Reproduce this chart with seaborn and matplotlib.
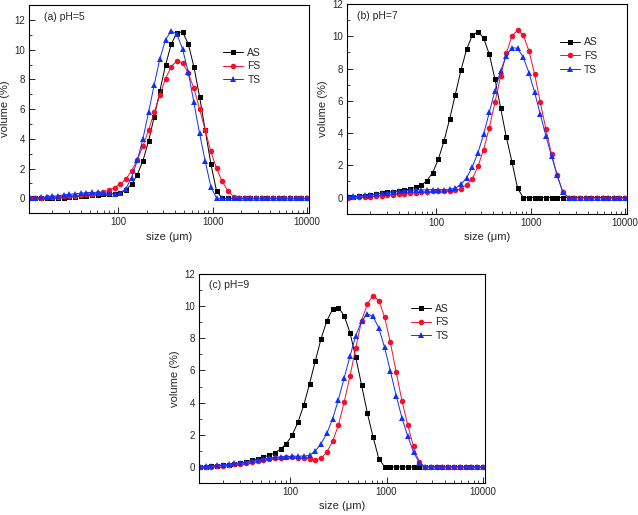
import numpy as np
import pandas as pd
import matplotlib
matplotlib.use("Agg")
import matplotlib.pyplot as plt
import matplotlib.ticker as mticker
import seaborn as sns

# particle size classes (um)
sizes = [11.482, 13.183, 15.136, 17.378, 19.953, 22.909, 26.303, 30.200, 34.674, 39.811,
         45.709, 52.481, 60.256, 69.183, 79.433, 91.201, 104.713, 120.226, 138.038, 158.489,
         181.970, 208.930, 239.883, 275.423, 316.228, 363.078, 416.869, 478.630, 549.541, 630.957,
         724.436, 831.764, 954.993, 1096.478, 1258.925, 1445.440, 1659.587, 1905.461, 2187.762, 2511.886,
         2884.032, 3311.311, 3801.894, 4365.158, 5011.872, 5754.399, 6606.934, 7585.776, 8709.636, 10000.0]

# (a) pH=5
as_a = [0, 0, 0, 0, 0.01, 0.02, 0.05, 0.08, 0.11, 0.14, 0.17, 0.20, 0.23, 0.26, 0.29, 0.32, 0.38,
        0.58, 0.95, 1.59, 2.53, 3.85, 5.5, 7.25, 8.97, 10.37, 11.15, 11.2, 10.4, 8.87, 6.85, 4.6,
        2.32, 0.5] + [0] * 16
fs_a = [0.02, 0.03, 0.04, 0.06, 0.08, 0.10, 0.13, 0.16, 0.19, 0.22, 0.26, 0.30, 0.35, 0.42, 0.54,
        0.72, 0.97, 1.3, 1.84, 2.6, 3.5, 4.6, 5.78, 6.96, 8.06, 8.87, 9.25, 9.13, 8.44, 7.41, 6.02,
        4.57, 3.16, 2.01, 1.14, 0.51, 0.11] + [0] * 13
ts_a = [0.03, 0.04, 0.06, 0.09, 0.13, 0.17, 0.22, 0.27, 0.31, 0.35, 0.38, 0.40, 0.40, 0.38, 0.34,
        0.30, 0.36, 0.66, 1.4, 2.55, 4.0, 5.8, 7.65, 9.4, 10.68, 11.27, 11.05, 10.05, 8.5, 6.45,
        4.38, 2.5, 0.78] + [0] * 17

# (b) pH=7
as_b = [0.03, 0.05, 0.08, 0.12, 0.17, 0.22, 0.27, 0.32, 0.37, 0.43, 0.47, 0.54, 0.64, 0.76, 1.05,
        1.55, 2.37, 3.5, 4.87, 6.39, 7.9, 9.2, 10.06, 10.29, 9.9, 8.89, 7.36, 5.57, 3.77, 2.23,
        0.58] + [0] * 19
fs_b = [0, 0.01, 0.02, 0.04, 0.06, 0.08, 0.11, 0.14, 0.17, 0.20, 0.23, 0.27, 0.30, 0.34, 0.37,
        0.39, 0.40, 0.41, 0.42, 0.45, 0.56, 0.8, 1.15, 1.94, 2.97, 4.33, 5.9, 7.53, 8.95, 10.02,
        10.39, 10.08, 9.11, 7.67, 5.92, 4.25, 2.7, 1.38, 0.33] + [0] * 11
ts_b = [0.05, 0.07, 0.10, 0.14, 0.18, 0.22, 0.27, 0.31, 0.35, 0.39, 0.42, 0.45, 0.47, 0.48, 0.49,
        0.50, 0.50, 0.50, 0.52, 0.58, 0.82, 1.22, 1.9, 2.78, 3.92, 5.28, 6.64, 7.86, 8.78, 9.3,
        9.26, 8.7, 7.75, 6.54, 5.18, 3.84, 2.58, 1.38, 0.33] + [0] * 11

# (c) pH=9
as_c = [0.01, 0.03, 0.05, 0.07, 0.10, 0.13, 0.17, 0.22, 0.29, 0.41, 0.52, 0.62, 0.72, 0.87, 1.12,
        1.45, 1.98, 2.78, 3.84, 5.16, 6.59, 7.97, 9.09, 9.81, 9.91, 9.4, 8.36, 6.82, 5.12, 3.37,
        1.86, 0.52] + [0] * 18
fs_c = [0, 0.01, 0.03, 0.05, 0.08, 0.12, 0.16, 0.21, 0.26, 0.32, 0.38, 0.44, 0.50, 0.55, 0.58,
        0.60, 0.60, 0.58, 0.56, 0.50, 0.45, 0.54, 0.93, 1.59, 2.6, 4.03, 5.64, 7.39, 9.09, 10.12,
        10.66, 10.35, 9.31, 7.74, 5.91, 4.11, 2.6, 1.28, 0.31] + [0] * 11
ts_c = [0.02, 0.04, 0.07, 0.10, 0.14, 0.18, 0.22, 0.27, 0.32, 0.38, 0.44, 0.50, 0.56, 0.60, 0.63,
        0.65, 0.66, 0.67, 0.68, 0.72, 0.99, 1.45, 2.09, 2.99, 4.19, 5.53, 6.88, 8.16, 9.05, 9.52,
        9.36, 8.63, 7.43, 5.95, 4.44, 3.06, 1.92, 0.93, 0.27] + [0] * 11

series_names = ["AS", "FS", "TS"]
panel_titles = ["(a) pH=5", "(b) pH=7", "(c) pH=9"]
x_ticks = [100, 1000, 10000]
x_ticklabels = ["100", "1000", "10000"]

sns.set_style("white")
plt.rcParams["font.family"] = ["Liberation Sans", "DejaVu Sans"]

colors = {"AS": "#000000", "FS": "#f4102c", "TS": "#1030f8"}
markers = {"AS": "s", "FS": "o", "TS": "^"}
msizes = {"AS": 3.6, "FS": 4.0, "TS": 4.4}

fig = plt.figure(figsize=(6.38, 5.15), dpi=100)
positions = [
    [0.0455, 0.586, 0.439, 0.404],
    [0.544, 0.585, 0.439, 0.407],
    [0.312, 0.062, 0.448, 0.406],
]
ylims = [(-1, 13), (-1, 12), (-1, 12)]
legend_anchor = [(0.694, 0.795), (0.76, 0.842), (0.743, 0.858)]
panel_data = [(as_a, fs_a, ts_a), (as_b, fs_b, ts_b), (as_c, fs_c, ts_c)]

for i in range(3):
    ax = fig.add_axes(positions[i])
    for name, vals in zip(series_names, panel_data[i]):
        df = pd.DataFrame({"size": sizes, "volume": vals})
        sns.lineplot(data=df, x="size", y="volume", ax=ax, color=colors[name],
                     marker=markers[name], markersize=msizes[name],
                     markeredgewidth=0, linewidth=0.7, label=name)
    ax.set_xscale("log")
    ax.set_xlim(11.3, 10500)
    ax.set_ylim(*ylims[i])
    ax.set_xticks(x_ticks)
    ax.set_xticklabels(x_ticklabels)
    ax.xaxis.set_minor_locator(mticker.LogLocator(base=10, subs=np.arange(2, 10)))
    ax.xaxis.set_minor_formatter(mticker.NullFormatter())
    ax.set_yticks([0, 2, 4, 6, 8, 10, 12])
    ax.yaxis.set_minor_locator(mticker.MultipleLocator(1))
    ax.tick_params(which="major", direction="in", length=4, width=0.7,
                   labelsize=7, bottom=True, left=True, top=False, right=False, pad=3)
    ax.tick_params(which="minor", direction="in", length=2, width=0.6,
                   bottom=True, left=True, top=False, right=False)
    for sp in ax.spines.values():
        sp.set_color("black")
        sp.set_linewidth(0.8)
    ax.set_xlabel("size (\u03bcm)", fontsize=8, labelpad=3)
    ax.set_ylabel("volume (%)", fontsize=8, labelpad=3)
    ax.text(0.035 if i else 0.054, 0.945, panel_titles[i], transform=ax.transAxes,
            fontsize=7.5, ha="left", va="center")
    ax.legend(loc="upper left", bbox_to_anchor=legend_anchor[i], frameon=False,
              fontsize=7.5, handlelength=1.9, handletextpad=0.4, labelspacing=0.35,
              borderaxespad=0, borderpad=0)

fig.savefig("out.png", dpi=100)
